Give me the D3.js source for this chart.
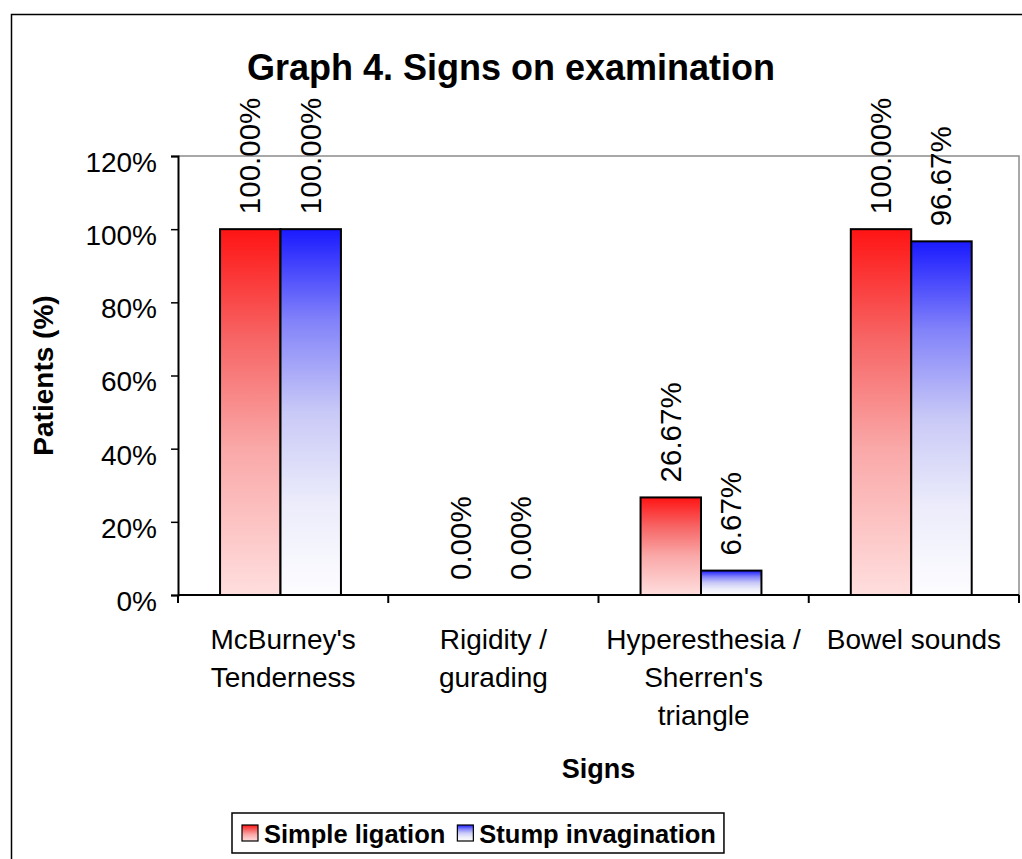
<!DOCTYPE html>
<html>
<head>
<meta charset="utf-8">
<script src="https://cdn.jsdelivr.net/npm/d3@7"></script>
<style>
    body { margin: 0; background: #fff; }
    svg text { font-family: "Liberation Sans", Arial, sans-serif; fill: #000; }
</style>
</head>
<body>
<div id="chart"></div>
<script>
// chart values
var categories = ["McBurney's Tenderness", "Rigidity / gurading", "Hyperesthesia / Sherren's triangle", "Bowel sounds"];
var categoryLines = [["McBurney's", "Tenderness"], ["Rigidity /", "gurading"], ["Hyperesthesia /", "Sherren's", "triangle"], ["Bowel sounds"]];
var seriesNames = ["Simple ligation", "Stump invagination"];
var simpleLigation = [100.00, 0.00, 26.67, 100.00];
var stumpInvagination = [100.00, 0.00, 6.67, 96.67];
var yTicks = [0, 20, 40, 60, 80, 100, 120];

var ctx = {
    w: 1022,
    h: 859,
    left: 178,
    right: 1019,
    top: 156,
    bottom: 595
};

var svgEl = d3.select("#chart").append("svg")
    .attr("width", ctx.w)
    .attr("height", ctx.h);

// gradients (top saturated -> bottom pale), like the excel fill
var defs = svgEl.append("defs");
var gradStops = {
    red: [[0, "#ff1414"], [0.3, "#f76565"], [0.6, "#faa8a8"], [1, "#ffdede"]],
    blue: [[0, "#1a1aff"], [0.25, "#8282fa"], [0.5, "#c9c9f7"], [0.75, "#ececfb"], [1, "#fdfdff"]]
};
Object.keys(gradStops).forEach(function(k) {
    var g = defs.append("linearGradient")
        .attr("id", "grad-" + k)
        .attr("x1", 0).attr("y1", 0).attr("x2", 0).attr("y2", 1);
    gradStops[k].forEach(function(s) {
        g.append("stop").attr("offset", s[0]).attr("stop-color", s[1]);
    });
});
var fills = ["url(#grad-red)", "url(#grad-blue)"];

// outer chart border (runs off the bottom/right)
svgEl.append("rect")
    .attr("x", 11.5).attr("y", 14.5)
    .attr("width", 1030).attr("height", 880)
    .attr("fill", "none").attr("stroke", "#000").attr("stroke-width", 1.5);

// scales
var x0 = d3.scaleBand()
    .domain(categories)
    .range([ctx.left, ctx.right])
    .padding(0);
var x1 = d3.scaleBand()
    .domain(seriesNames)
    .range([x0.bandwidth() * 0.2, x0.bandwidth() * 0.775]);
var y = d3.scaleLinear()
    .domain([0, 120])
    .range([ctx.bottom, ctx.top]);

// plot area frame (grey top/right)
svgEl.append("path")
    .attr("d", "M" + ctx.left + "," + ctx.top + "H" + ctx.right + "V" + ctx.bottom)
    .attr("fill", "none").attr("stroke", "#8c8c8c").attr("stroke-width", 1.5);

// bars
var data = categories.map(function(c, i) {
    return { cat: c, vals: [simpleLigation[i], stumpInvagination[i]] };
});
var groups = svgEl.selectAll("g.cat")
    .data(data)
    .enter()
    .append("g")
    .attr("class", "cat")
    .attr("transform", (d) => "translate(" + x0(d.cat) + ",0)");

groups.selectAll("rect")
    .data((d) => d.vals.map((v, j) => ({ name: seriesNames[j], v: v, j: j })))
    .enter()
    .append("rect")
    .attr("x", (d) => x1(d.name))
    .attr("y", (d) => y(d.v))
    .attr("width", x1.bandwidth())
    .attr("height", (d) => y(0) - y(d.v))
    .attr("fill", (d) => fills[d.j])
    .attr("stroke", "#000")
    .attr("stroke-width", (d) => d.v > 0 ? 2 : 0);

// value labels, rotated
groups.selectAll("text.val")
    .data((d) => d.vals.map((v, j) => ({ name: seriesNames[j], v: v })))
    .enter()
    .append("text")
    .attr("class", "val")
    .attr("transform", (d) => "translate(" + (x1(d.name) + x1.bandwidth() / 2 + 10) + "," + (y(d.v) - 15) + ") rotate(-90)")
    .attr("font-size", "29.5px")
    .text((d) => d.v.toFixed(2) + "%");

// y axis
var yAxis = svgEl.append("g")
    .attr("transform", "translate(" + ctx.left + ",0)")
    .call(d3.axisLeft(y).tickValues(yTicks).tickSize(7).tickPadding(14).tickFormat((d) => d + "%"));
yAxis.select(".domain").attr("stroke", "#000").attr("stroke-width", 2);
yAxis.selectAll(".tick line").attr("stroke", "#000").attr("stroke-width", 1.5);
yAxis.selectAll(".tick text")
    .attr("font-family", "Liberation Sans, Arial, sans-serif")
    .attr("font-size", "28px")
    .attr("dy", "0.55em");

// x axis: ticks on category boundaries
var xAxisG = svgEl.append("g");
xAxisG.append("line")
    .attr("x1", ctx.left).attr("x2", ctx.right)
    .attr("y1", ctx.bottom).attr("y2", ctx.bottom)
    .attr("stroke", "#000").attr("stroke-width", 2);
var bounds = categories.map((c) => x0(c)).concat([x0.range()[1]]);
xAxisG.selectAll("line.tk")
    .data(bounds)
    .enter()
    .append("line")
    .attr("class", "tk")
    .attr("x1", (d) => d).attr("x2", (d) => d)
    .attr("y1", ctx.bottom).attr("y2", ctx.bottom + 8)
    .attr("stroke", "#000").attr("stroke-width", 2);

// category labels
categories.forEach(function(c, i) {
    var t = svgEl.append("text")
        .attr("text-anchor", "middle")
        .attr("font-size", "28px")
        .attr("x", x0(c) + x0.bandwidth() / 2)
        .attr("y", 649);
    categoryLines[i].forEach(function(line, k) {
        t.append("tspan")
            .attr("x", x0(c) + x0.bandwidth() / 2)
            .attr("y", 649 + k * 38)
            .text(line);
    });
});

// titles
svgEl.append("text")
    .attr("x", 511).attr("y", 80)
    .attr("text-anchor", "middle")
    .attr("font-size", "36px").attr("font-weight", "bold")
    .text("Graph 4. Signs on examination");

svgEl.append("text")
    .attr("x", (ctx.left + ctx.right) / 2).attr("y", 778)
    .attr("text-anchor", "middle")
    .attr("font-size", "27px").attr("font-weight", "bold")
    .text("Signs");

svgEl.append("text")
    .attr("transform", "translate(53," + ((ctx.top + ctx.bottom) / 2) + ") rotate(-90)")
    .attr("text-anchor", "middle")
    .attr("font-size", "28px").attr("font-weight", "bold")
    .text("Patients (%)");

// legend
var legendG = svgEl.append("g")
    .attr("transform", "translate(232,813)");
var legendBox = legendG.append("rect")
    .attr("height", 40)
    .attr("fill", "#fff").attr("stroke", "#000").attr("stroke-width", 1.5);
var lx = 10;
seriesNames.forEach(function(s, i) {
    legendG.append("rect")
        .attr("x", lx).attr("y", 12)
        .attr("width", 16).attr("height", 16)
        .attr("fill", fills[i]).attr("stroke", "#000").attr("stroke-width", 1.2);
    var t = legendG.append("text")
        .attr("x", lx + 22).attr("y", 30)
        .attr("font-size", "25.5px").attr("font-weight", "bold")
        .text(s);
    lx += 22 + t.node().getComputedTextLength() + 12;
});
legendBox.attr("width", lx - 4);
</script>
</body>
</html>
